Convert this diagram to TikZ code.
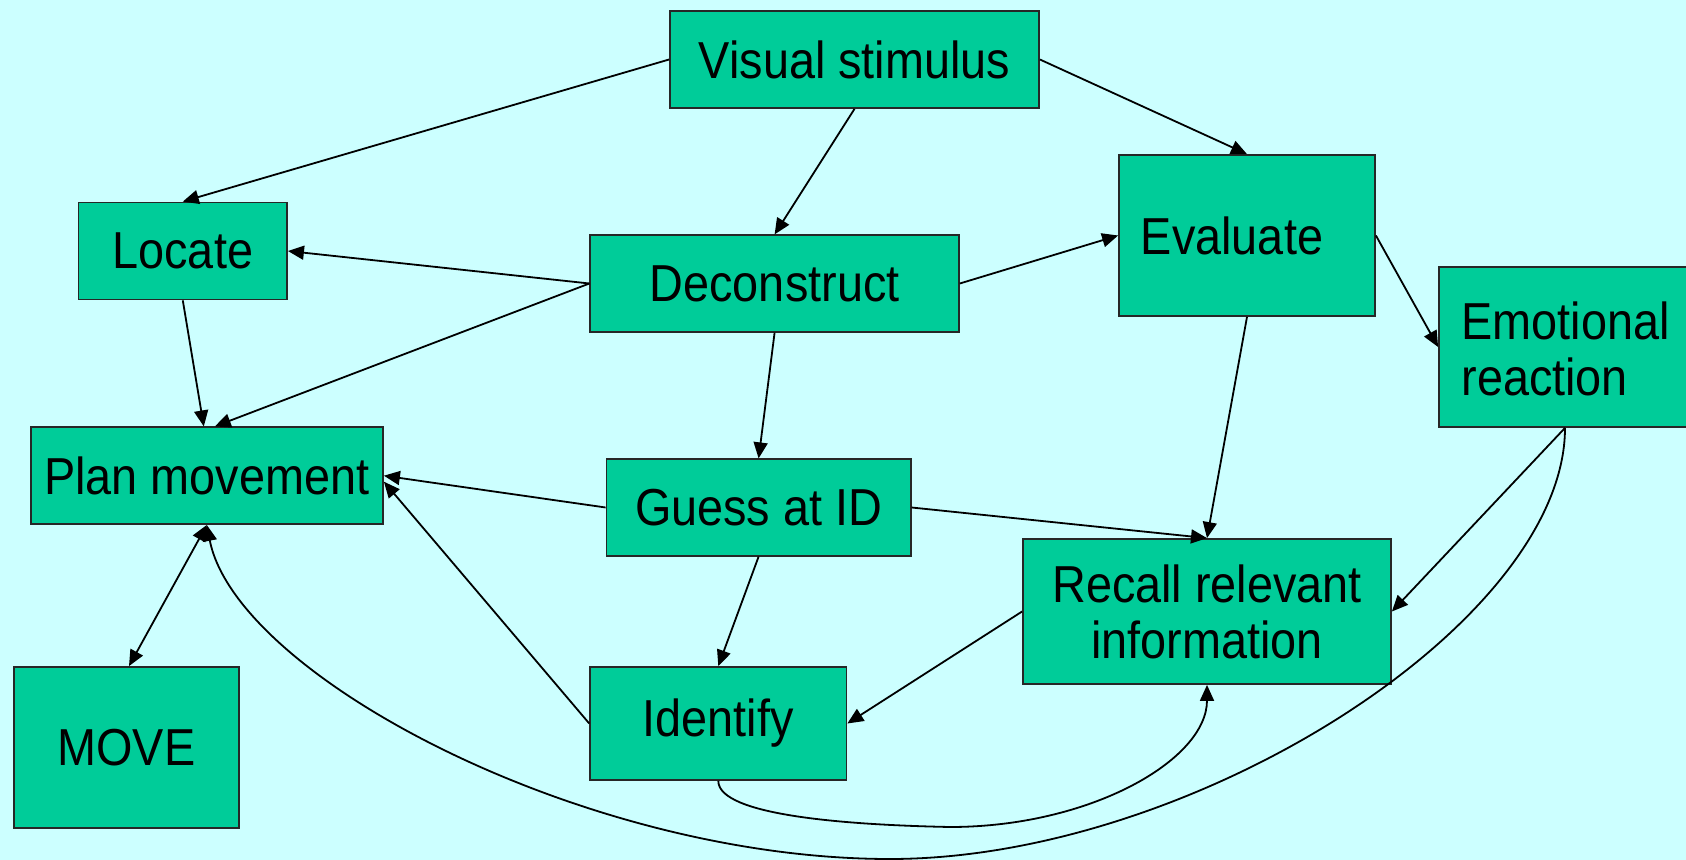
\documentclass[tikz,border=0pt]{standalone}
\usepackage{fontspec}
\setmainfont{Liberation Sans}[FakeStretch=0.9]
\usetikzlibrary{arrows.meta}
\definecolor{bgc}{HTML}{CCFFFF}
\definecolor{boxc}{HTML}{00CC99}
\begin{document}
\begin{tikzpicture}[x=0.5pt,y=-0.5pt,
  box/.style={draw=black!85, line width=0.9pt, fill=boxc, inner sep=0pt, align=center,
    font=\fontsize{26}{28}\selectfont},
  lbl/.style={inner sep=0pt, font=\fontsize{26}{28}\selectfont},
  conn/.style={line width=0.9pt, -{Triangle[length=8pt,width=7pt]}},
  conn2/.style={line width=0.9pt, {Triangle[length=8pt,width=7pt]}-{Triangle[length=8pt,width=7pt]}}]
\useasboundingbox (0,0) rectangle (1686,860);
\fill[bgc] (0,0) rectangle (1686,860);

\node[box, minimum width=184.5pt, minimum height=48.5pt] (vis) at (854.5,59.5) {Visual stimulus};
\node[box, minimum width=104.25pt, minimum height=48.5pt] (loc) at (182.8,251) {Locate};
\node[box, minimum width=184.3pt, minimum height=48.2pt] (dec) at (774.6,283.5) {Deconstruct};
\node[box, minimum width=128pt, minimum height=80.5pt] (eva) at (1247,235.5) {};
\node[lbl] (evat) at (1232,235.5) {Evaluate};
\node[box, minimum width=126pt, minimum height=80pt] (emo) at (1565,347) {};
\node[lbl, anchor=west, align=left] (emot) at (1461,349) {Emotional\\reaction};
\node[box, minimum width=176.2pt, minimum height=48.35pt] (plan) at (206.8,475.7) {Plan movement};
\node[box, minimum width=152.1pt, minimum height=48.2pt] (guess) at (758.6,507.5) {Guess at ID};
\node[box, minimum width=184pt, minimum height=72.5pt] (rec) at (1207,611.5) {Recall relevant\\information};
\node[box, minimum width=112.5pt, minimum height=80.5pt] (move) at (126.5,747.5) {MOVE};
\node[box, minimum width=128.15pt, minimum height=56.5pt] (iden) at (718.3,723.5) {Identify};

\draw[conn] (vis.west) -- (loc.north);
\draw[conn] (vis.south) -- (dec.north);
\draw[conn] (vis.east) -- (eva.north);
\draw[conn] (dec.west) -- (loc.east);
\draw[conn] (dec.west) -- ([xshift=4pt]plan.north);
\draw[conn] (loc.south) -- ([xshift=-1.5pt]plan.north);
\draw[conn] (dec.east) -- (eva.west);
\draw[conn] (dec.south) -- (guess.north);
\draw[conn] (eva.east) -- (emo.west);
\draw[conn] (eva.south) -- (rec.north);
\draw[conn] (guess.west) -- (plan.east);
\draw[conn] (guess.east) -- (rec.north);
\draw[conn] (guess.south) -- (iden.north);
\draw[conn] (iden.west) -- ([yshift=-3pt]plan.east);
\draw[conn] (rec.west) -- (iden.east);
\draw[conn] (emo.south) -- (rec.east);
\draw[conn2] (plan.south) -- ([xshift=1.25pt]move.north);
\coordinate (b1) at (890,859);
\draw[conn] (emo.south) .. controls +(0,194) and (1194,859) .. (b1)
  .. controls (582,859) and (236,675) .. (plan.south);
\coordinate (b2) at (950,827);
\draw[conn] (iden.south) .. controls +(0,35) and (850,825) .. (b2)
  .. controls (1090,827) and (1207,760) .. (rec.south);
\end{tikzpicture}
\end{document}
